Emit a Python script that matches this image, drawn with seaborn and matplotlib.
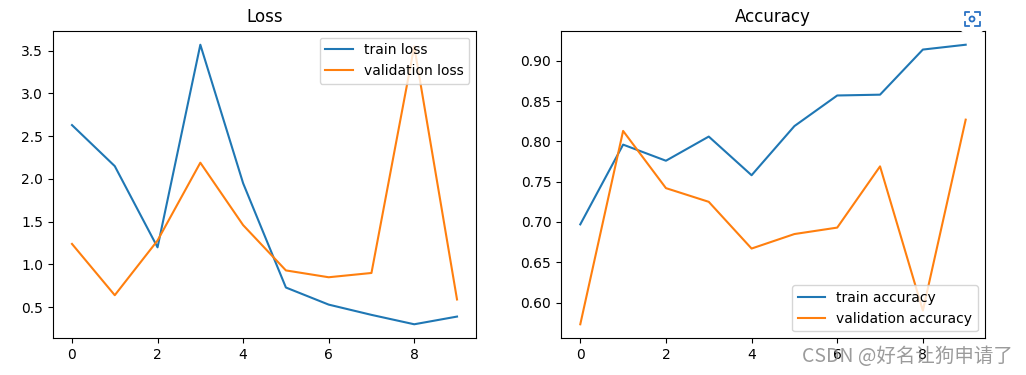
import matplotlib
matplotlib.use("Agg")
import matplotlib.pyplot as plt
from matplotlib.patches import Circle
import pandas as pd
import seaborn as sns

epochs = [0, 1, 2, 3, 4, 5, 6, 7, 8, 9]
train_loss = [2.63, 2.15, 1.2, 3.57, 1.95, 0.73, 0.53, 0.41, 0.3, 0.39]
val_loss = [1.24, 0.64, 1.28, 2.19, 1.46, 0.93, 0.85, 0.9, 3.55, 0.59]
train_acc = [0.697, 0.796, 0.776, 0.806, 0.758, 0.819, 0.857, 0.858, 0.914, 0.92]
val_acc = [0.573, 0.813, 0.742, 0.725, 0.667, 0.685, 0.693, 0.769, 0.59, 0.827]

plt.rcParams['font.family'] = ['DejaVu Sans']

df = pd.DataFrame({"epoch": epochs, "train_loss": train_loss, "val_loss": val_loss,
                   "train_acc": train_acc, "val_acc": val_acc})

fig = plt.figure(figsize=(10.26, 3.75), dpi=100)
ax1 = fig.add_axes([0.0514, 0.098, 0.4128, 0.82])
ax2 = fig.add_axes([0.5468, 0.098, 0.4132, 0.82])

sns.lineplot(data=df, x="epoch", y="train_loss", ax=ax1, label="train loss")
sns.lineplot(data=df, x="epoch", y="val_loss", ax=ax1, label="validation loss")
ax1.set_title("Loss")
ax1.legend(loc="upper right")

sns.lineplot(data=df, x="epoch", y="train_acc", ax=ax2, label="train accuracy")
sns.lineplot(data=df, x="epoch", y="val_acc", ax=ax2, label="validation accuracy")
ax2.set_title("Accuracy")
ax2.legend(loc="lower right")

for ax in (ax1, ax2):
    ax.set_xlabel("")
    ax.set_ylabel("")

# overlay in pixel coordinates for the page's screenshot icon
over = fig.add_axes([0, 0, 1, 1], zorder=5)
over.set_xlim(0, 1026)
over.set_ylim(375, 0)
over.axis("off")
icon = "#2a72c4"
over.add_patch(Circle((972, 18), 17, fc="white", ec="none"))
over.plot([965, 965, 969], [15, 11.5, 11.5], color=icon, lw=1.3)
over.plot([975, 980, 980], [11.5, 11.5, 15], color=icon, lw=1.3)
over.plot([965, 965, 969], [22, 26, 26], color=icon, lw=1.3)
over.plot([975, 980, 980], [26, 26, 22], color=icon, lw=1.3)
over.add_patch(Circle((972, 19), 2.5, fc="none", ec=icon, lw=1.3))

# watermark
over.text(1013, 356, "CSDN @好名让狗申请了", ha="right", va="center", fontsize=14,
          color="#8a8a8a", alpha=0.85, family=["Noto Sans CJK SC", "DejaVu Sans"])

fig.savefig("out.png", dpi=100)
